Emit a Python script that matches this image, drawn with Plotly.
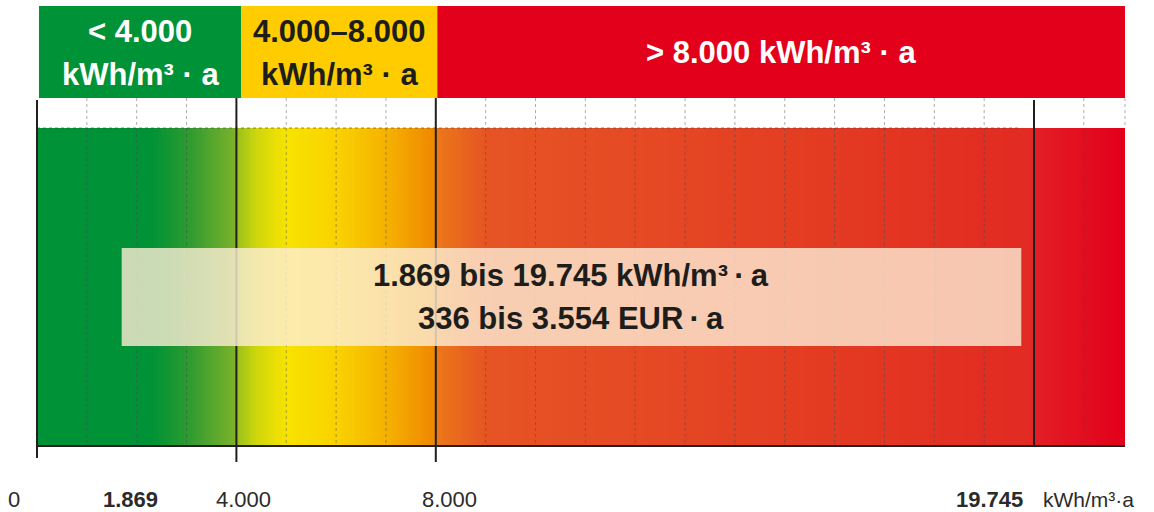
import plotly.graph_objects as go
import numpy as np

# ---------------- data ----------------
range_low = 1869          # kWh/m³·a
range_high = 19745        # kWh/m³·a
cost_low = "336"
cost_high = "3.554"
thresholds = [4000, 8000]             # category borders
scale_mark = 20000                    # right scale marker line
bar_end = 21825                       # end of the coloured scale
grid_step = 1000

category_labels = ["< 4.000<br>kWh/m³ · a", "4.000–8.000<br>kWh/m³ · a", "> 8.000 kWh/m³ · a"]
category_colors = ["#009236", "#FFCC00", "#E2001A"]
category_text_colors = ["white", "#1d1d1b", "white"]

tick_values = [0, range_low, 4000, 8000, range_high]
tick_labels = ["0", "<b>1.869</b>", "4.000", "8.000", "<b>19.745</b>"]
unit_label = "kWh/m³·a"

# colour stops of the gradient (value, colour)
grad_values = [0, 2300, 3000, 3990, 4010, 4400, 5000, 6000, 7000, 7990, 8010, 9000, 12000, 16000, 19990, 20010, 21825]
grad_colors = ["#009236", "#009236", "#2a9a30", "#7db22a", "#98c01c", "#cfd60c", "#f8e300", "#f9d200",
               "#f5b200", "#ef8700", "#ec7818", "#e65424", "#e54a24", "#e33a22", "#e22a22", "#e31e26", "#e2001a"]

# ---------------- geometry (pixel layout) ----------------
W, H = 1154, 512
px0 = 37.0                     # pixel of value 0
ppu = (1034 - 37) / 20000.0    # pixels per unit
x_range = [(0 - px0) / ppu, (W - px0) / ppu]

bar_top, bar_bot = 128, 446
head_top, head_bot = 6, 98
head_edges = [40, 4100, 8030, bar_end]

fig = go.Figure()

# gradient bar as heatmap
edges = np.arange(0, bar_end + 1, 50.0)
if edges[-1] < bar_end:
    edges = np.append(edges, bar_end)
centers = (edges[:-1] + edges[1:]) / 2
cs = [[v / bar_end, c] for v, c in zip(grad_values, grad_colors)]
fig.add_trace(go.Heatmap(
    x=edges, y=[bar_top, bar_bot], z=[centers.tolist()],
    zmin=0, zmax=bar_end, colorscale=cs, showscale=False, hoverinfo="skip"))

shapes = []
# header boxes
for i in range(3):
    shapes.append(dict(type="rect", xref="x", yref="y", x0=head_edges[i], x1=head_edges[i + 1],
                       y0=head_top, y1=head_bot, fillcolor=category_colors[i], line_width=0, layer="above"))

# dotted grid lines
for v in np.arange(grid_step, bar_end, grid_step):
    if v in thresholds or v == scale_mark:
        continue
    shapes.append(dict(type="line", xref="x", yref="y", x0=v, x1=v, y0=head_bot, y1=bar_bot,
                       line=dict(color="rgba(70,70,70,0.45)", width=1, dash="dot"), layer="above"))
shapes.append(dict(type="line", xref="x", yref="y", x0=bar_end, x1=bar_end, y0=head_bot, y1=bar_top,
                   line=dict(color="rgba(70,70,70,0.45)", width=1, dash="dot"), layer="above"))
# top dotted edge of the bar
shapes.append(dict(type="line", xref="x", yref="y", x0=0, x1=range_high, y0=bar_top, y1=bar_top,
                   line=dict(color="rgba(60,60,60,0.6)", width=1, dash="dot"), layer="above"))

# black scale lines
blk = "#231f20"
shapes.append(dict(type="line", xref="x", yref="y", x0=0, x1=0, y0=100, y1=458,
                   line=dict(color=blk, width=2), layer="above"))
for t in thresholds:
    shapes.append(dict(type="line", xref="x", yref="y", x0=t, x1=t, y0=head_bot, y1=462,
                       line=dict(color=blk, width=2), layer="above"))
shapes.append(dict(type="line", xref="x", yref="y", x0=scale_mark, x1=scale_mark, y0=100, y1=bar_bot,
                   line=dict(color=blk, width=2), layer="above"))
shapes.append(dict(type="line", xref="x", yref="y", x0=0, x1=bar_end, y0=bar_bot, y1=bar_bot,
                   line=dict(color=blk, width=2), layer="above"))

# translucent range box
box_x0 = range_low - 170
shapes.append(dict(type="rect", xref="x", yref="y", x0=box_x0, x1=range_high,
                   y0=248, y1=346, fillcolor="rgba(253,238,214,0.8)", line_width=0, layer="above"))

annotations = []
FONT = "Liberation Sans, Arial, sans-serif"
# header texts
for i in range(3):
    cx = (head_edges[i] + head_edges[i + 1]) / 2
    lines = category_labels[i].split("<br>")
    ys = [31, 74] if len(lines) == 2 else [52]
    for ln, yy in zip(lines, ys):
        annotations.append(dict(x=cx, y=yy, xref="x", yref="y", text="<b>%s</b>" % ln, showarrow=False,
                                font=dict(family=FONT, size=31, color=category_text_colors[i]),
                                xanchor="center", yanchor="middle"))

# box texts
bx = (box_x0 + range_high) / 2
fmt = lambda n: "{:,}".format(n).replace(",", ".")
annotations.append(dict(x=bx, y=275, xref="x", yref="y", showarrow=False,
                        text="<b>%s bis %s kWh/m³\u2009·\u2009a</b>" % (fmt(range_low), fmt(range_high)),
                        font=dict(family=FONT, size=31, color="#1d1d1b")))
annotations.append(dict(x=bx, y=318, xref="x", yref="y", showarrow=False,
                        text="<b>%s bis %s EUR\u2009·\u2009a</b>" % (cost_low, cost_high),
                        font=dict(family=FONT, size=31, color="#1d1d1b")))

# bottom tick labels
shifts = [-23, 0, 7, 14, 4]
anchors = ["center", "center", "center", "center", "right"]
for v, t, s, a in zip(tick_values, tick_labels, shifts, anchors):
    annotations.append(dict(x=v, y=499, xref="x", yref="y", text=t, showarrow=False, xshift=s,
                            xanchor=a, font=dict(family=FONT, size=22, color="#2b2b2b")))
annotations.append(dict(x=scale_mark, y=499, xref="x", yref="y", text=unit_label, showarrow=False, xshift=7,
                        xanchor="left", font=dict(family=FONT, size=21, color="#2b2b2b")))

fig.update_layout(
    width=W, height=H, margin=dict(l=0, r=0, t=0, b=0),
    paper_bgcolor="white", plot_bgcolor="white",
    xaxis=dict(range=x_range, visible=False, fixedrange=True),
    yaxis=dict(range=[H, 0], visible=False, fixedrange=True),
    shapes=shapes, annotations=annotations, showlegend=False)

fig.write_html("out.html", config={"displayModeBar": False},
               post_script="document.body.style.margin='0px';document.body.style.overflow='hidden';")
